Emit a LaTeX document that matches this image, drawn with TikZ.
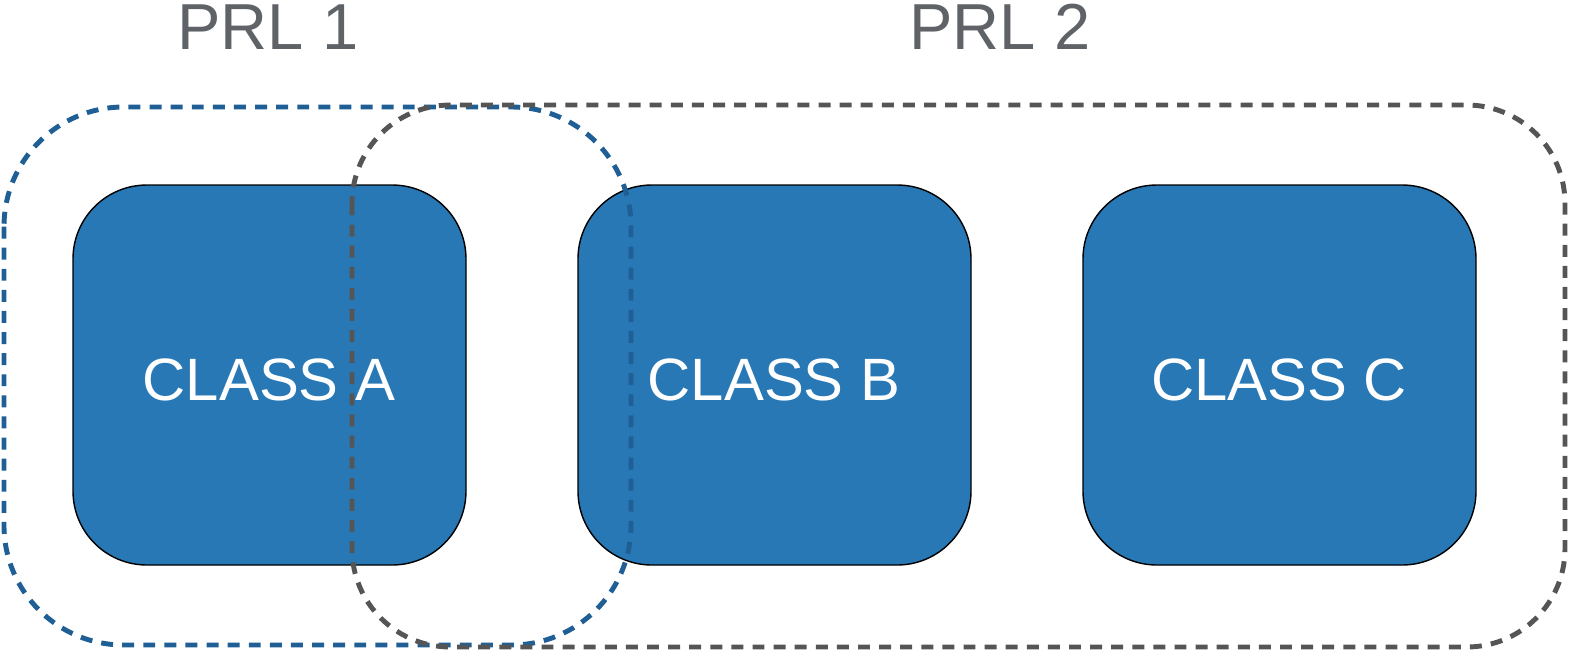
\documentclass[tikz,border=0pt]{standalone}
\usepackage{fontspec}
\setmainfont{Liberation Sans}
\definecolor{boxblue}{HTML}{2878B5}
\definecolor{prlblue}{HTML}{1F5F95}
\definecolor{prlgray}{HTML}{555555}
\definecolor{titlegray}{HTML}{5F6368}
\tikzset{
  classbox/.style={fill=boxblue,rounded corners=21pt},
  prlline/.style={dashed,line width=1.4pt,dash pattern=on 3.4pt off 2.6pt},
  classlabel/.style={text=white,font=\fontsize{17}{20}\selectfont},
  prllabel/.style={text=titlegray,font=\fontsize{18.5}{22}\selectfont}
}
\begin{document}
\begin{tikzpicture}[x=0.01cm,y=-0.01cm]
        \useasboundingbox (0,0) rectangle (1584,660);
        % classes
        \foreach\x/\n in {73/A,578/B,1083/C}{
            \filldraw[classbox] (\x,185) rectangle (\x+393,565);
            \node[classlabel] (class\n) at (\x+196,380) {CLASS \n};
        }
        % groups
        \draw[prlline,prlblue,rounded corners=34pt] (4,107) rectangle (631,645);
        \draw[prlline,prlgray,rounded corners=28pt] (352,105) rectangle (1565,647);
        \node[prllabel] (prlA) at (268,27) {PRL 1};
        \node[prllabel] (prlB) at (1000,27) {PRL 2};
\end{tikzpicture}
\end{document}
